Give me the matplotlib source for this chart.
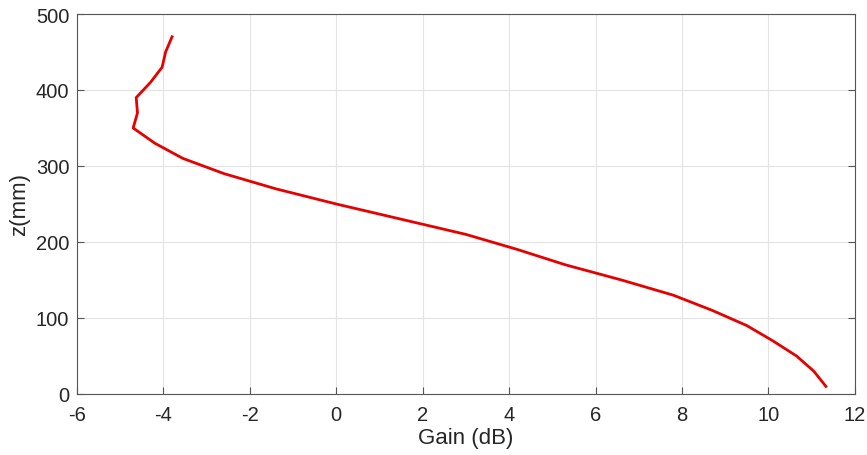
import matplotlib
matplotlib.use("Agg")
import matplotlib.pyplot as plt

z_mm = [10, 30, 50, 70, 90, 110, 130, 150, 170, 190, 210, 230, 250, 270, 290,
        310, 330, 350, 370, 390, 410, 430, 450, 470]
gain_db = [11.33, 11.05, 10.65, 10.1, 9.5, 8.7, 7.8, 6.6, 5.3, 4.2, 3.0, 1.5, 0.0,
           -1.4, -2.6, -3.55, -4.2, -4.7, -4.6, -4.63, -4.3, -4.03, -3.95, -3.8]
xticks = [-6, -4, -2, 0, 2, 4, 6, 8, 10, 12]
yticks = [0, 100, 200, 300, 400, 500]

plt.rcParams['font.family'] = ['Liberation Sans', 'DejaVu Sans']

fig = plt.figure(figsize=(8.67, 4.56), dpi=100)
ax = fig.add_axes([0.0888, 0.1338, 0.8972, 0.8333])
ax.plot(gain_db, z_mm, color='#e60000', lw=2.0)
ax.set_xlim(-6, 12)
ax.set_ylim(0, 500)
ax.set_xticks(xticks)
ax.set_yticks(yticks)
ax.set_xticklabels([str(t) for t in xticks])
ax.set_yticklabels([str(t) for t in yticks])
ax.grid(True, color='#e3e3e3', lw=0.8)
ax.set_axisbelow(True)
for s in ax.spines.values():
    s.set_color('#555555')
    s.set_linewidth(0.8)
ax.tick_params(direction='in', length=5, width=0.8, colors='#555555',
               labelcolor='#262626', labelsize=14.5, top=False, right=True)
ax.tick_params(axis='x', pad=8)
ax.tick_params(axis='y', pad=5.5)
ax.set_xlabel('Gain (dB)', fontsize=16, color='#262626', labelpad=2)
ax.set_ylabel('z(mm)', fontsize=16, color='#262626', labelpad=4)
fig.savefig('out.png', dpi=100)
